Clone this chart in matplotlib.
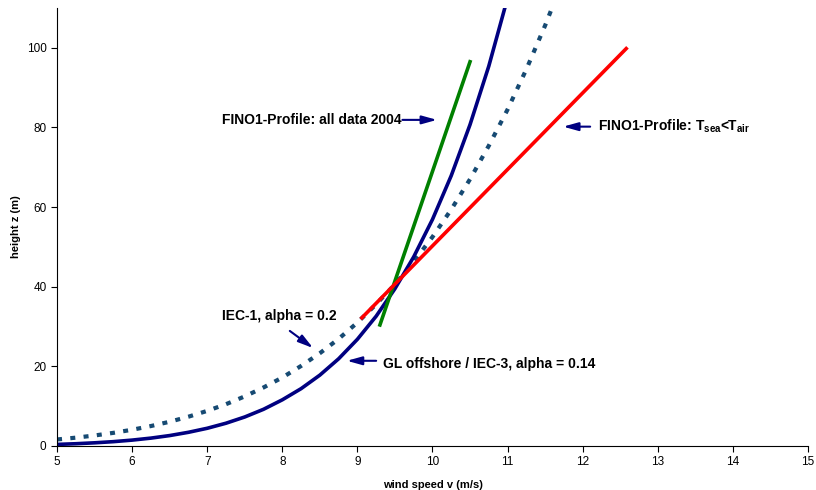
# Wind profile over sea: measured FINO1 profiles vs. IEC / GL power laws

import matplotlib
matplotlib.use('Agg')
import matplotlib.pyplot as plt

plt.rcParams['font.family'] = ['Liberation Sans', 'DejaVu Sans']
plt.rcParams['mathtext.fontset'] = 'custom'
plt.rcParams['mathtext.rm'] = 'Liberation Sans:bold'

# values
speed_gl = [5.0, 5.25, 5.5, 5.75, 6.0, 6.25, 6.5, 6.75, 7.0, 7.25, 7.5, 7.75, 8.0,
            8.25, 8.5, 8.75, 9.0, 9.25, 9.5, 9.75, 10.0, 10.25, 10.5, 10.75, 11.0]
height_gl = [0.4, 0.57, 0.8, 1.09, 1.48, 1.98, 2.62, 3.44, 4.45, 5.72, 7.29, 9.22, 11.6,
             14.4, 17.8, 21.9, 26.8, 32.6, 39.5, 47.5, 56.9, 67.9, 80.7, 95.4, 112.5]

speed_iec1 = [5.0, 5.25, 5.5, 5.75, 6.0, 6.25, 6.5, 6.75, 7.0, 7.25, 7.5, 7.75, 8.0,
              8.25, 8.5, 8.75, 9.0, 9.25, 9.5, 9.75, 10.0, 10.25, 10.5, 10.75, 11.0,
              11.25, 11.5, 11.75]
height_iec1 = [1.64, 2.09, 2.64, 3.3, 4.08, 5.01, 6.09, 7.36, 8.82, 10.5, 12.46, 14.7, 17.2,
               20.1, 23.3, 26.9, 31.0, 35.6, 40.6, 46.3, 52.5, 59.4, 67.0, 75.4, 84.5,
               94.6, 105.6, 117.6]

speed_fino_all = [9.3, 10.5]
height_fino_all = [30.4, 96.5]

speed_fino_stable = [9.06, 12.58]
height_fino_stable = [32.2, 99.8]

navy = '#000080'

fig = plt.figure(figsize=(8.16, 4.9), dpi=100)
ax = fig.add_axes([0.0699, 0.0898, 0.9202, 0.8939])

ax.plot(speed_iec1, height_iec1, color='#164a73', lw=3, ls=(0, (1.2, 2.0)))
ax.plot(speed_gl, height_gl, color=navy, lw=2.6)
ax.plot(speed_fino_all, height_fino_all, color='#008000', lw=2.6)
ax.plot(speed_fino_stable, height_fino_stable, color='#ff0000', lw=2.6)

ax.set_xlim(5, 15)
ax.set_ylim(0, 110)
ax.set_xticks(range(5, 16))
ax.set_yticks(range(0, 101, 20))
ax.spines['top'].set_visible(False)
ax.spines['right'].set_visible(False)
ax.tick_params(labelsize=8.5, length=4, width=0.8)
ax.set_xlabel('wind speed v (m/s)', fontsize=8, fontweight='bold', labelpad=8)
ax.set_ylabel('height z (m)', fontsize=8, fontweight='bold', labelpad=4)

arrow = dict(arrowstyle='-|>,head_length=0.9,head_width=0.25', color=navy, lw=1.5,
             shrinkA=0, shrinkB=0)
txt = dict(fontsize=10, fontweight='bold', va='center')

ax.text(7.2, 81.9, 'FINO1-Profile: all data 2004', ha='left', **txt)
ax.annotate('', xy=(10.06, 81.9), xytext=(9.6, 81.9), arrowprops=arrow)

ax.text(12.2, 80.2, r'FINO1-Profile: T$_\mathrm{sea}$<T$_\mathrm{air}$', ha='left', **txt)
ax.annotate('', xy=(11.74, 80.2), xytext=(12.1, 80.2), arrowprops=arrow)

ax.text(7.2, 32.7, 'IEC-1, alpha = 0.2', ha='left', **txt)
ax.annotate('', xy=(8.41, 24.6), xytext=(8.1, 28.9), arrowprops=arrow)

ax.text(9.34, 20.6, 'GL offshore / IEC-3, alpha = 0.14', ha='left', **txt)
ax.annotate('', xy=(8.86, 21.4), xytext=(9.25, 21.4), arrowprops=arrow)

fig.savefig('out.png', dpi=100)
